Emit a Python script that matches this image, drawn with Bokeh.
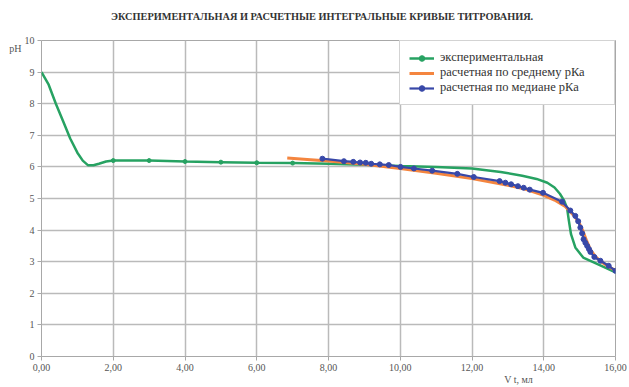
from bokeh.plotting import figure
from bokeh.models import (Range1d, FixedTicker, CustomJSTickFormatter, Legend, LegendItem, LinearAxis)
from bokeh.embed import file_html
from bokeh.resources import INLINE

# ---- data ----
title_text = "ЭКСПЕРИМЕНТАЛЬНАЯ И РАСЧЕТНЫЕ ИНТЕГРАЛЬНЫЕ КРИВЫЕ ТИТРОВАНИЯ."
y_label = "pH"
x_label = "V t, мл"
x_ticks = [0, 2, 4, 6, 8, 10, 12, 14, 16]
y_ticks = [0, 1, 2, 3, 4, 5, 6, 7, 8, 9, 10]

exp_x = [0, 0.2, 0.4, 0.6, 0.8, 1.0, 1.15, 1.3, 1.45, 1.6, 1.8, 2, 3, 4, 5, 6, 7, 8, 9, 10,
         11, 12, 12.8, 13.4, 13.8, 14.1, 14.3, 14.45, 14.56, 14.65, 14.7, 14.76, 14.88,
         15.1, 15.5, 16]
exp_ph = [9.0, 8.6, 8.0, 7.45, 6.9, 6.45, 6.2, 6.05, 6.05, 6.1, 6.17, 6.2, 6.2, 6.17, 6.15,
          6.13, 6.12, 6.1, 6.07, 6.03, 6.0, 5.95, 5.84, 5.72, 5.62, 5.5, 5.35, 5.15, 4.95,
          4.7, 4.3, 3.87, 3.45, 3.13, 2.92, 2.66]
exp_mark_x = [2, 3, 4, 5, 6, 7]
exp_mark_ph = [6.2, 6.2, 6.17, 6.15, 6.13, 6.12]

mean_x = [6.85, 7.5, 8.0, 9.0, 10.0, 11.0, 12.0, 13.0, 13.5, 14.0, 14.3, 14.6, 14.85, 15.0,
          15.1, 15.2, 15.3, 15.45, 15.6, 15.8, 16.0]
mean_ph = [6.28, 6.23, 6.19, 6.08, 5.95, 5.8, 5.63, 5.42, 5.29, 5.1, 4.95, 4.75, 4.45, 4.2,
           3.95, 3.65, 3.38, 3.15, 3.0, 2.85, 2.72]

med_x = [7.83, 8.43, 8.69, 8.88, 9.04, 9.19, 9.43, 9.68, 10.01, 10.38, 10.89, 11.59, 12.05,
         12.77, 12.93, 13.09, 13.28, 13.44, 13.61, 13.98, 14.51, 14.74, 14.88, 14.96, 15.02,
         15.07, 15.11, 15.16, 15.21, 15.26, 15.3, 15.41, 15.58, 15.81, 16.0]
med_ph = [6.26, 6.18, 6.16, 6.14, 6.13, 6.1, 6.08, 6.06, 6.0, 5.95, 5.88, 5.78, 5.68, 5.55,
          5.5, 5.45, 5.39, 5.34, 5.28, 5.18, 4.9, 4.62, 4.45, 4.28, 4.08, 3.9, 3.71, 3.6,
          3.5, 3.4, 3.31, 3.15, 3.03, 2.87, 2.71]

labels = ["экспериментальная", "расчетная по среднему рКа", "расчетная по медиане рКа"]

GREEN = "#27a262"
ORANGE = "#f4853f"
BLUE = "#3848a8"
GRID = "#bababa"
FONT = "Liberation Serif, serif"

p = figure(width=629, height=387, output_backend="svg", toolbar_location=None,
           x_range=Range1d(0, 16), y_range=Range1d(0, 10),
           min_border_left=41, min_border_right=14, min_border_top=40, min_border_bottom=31)
p.background_fill_color = "white"
p.border_fill_color = "white"
p.outline_line_color = "#a8a8a8"
p.outline_line_width = 1

for ax in (p.xaxis[0], p.yaxis[0]):
    ax.axis_line_color = None
    ax.major_tick_line_color = "#a8a8a8"
    ax.major_tick_in = 0
    ax.major_tick_out = 4
    ax.minor_tick_line_color = None
    ax.major_label_text_font = FONT
    ax.major_label_text_font_size = "10px"
    ax.major_label_text_color = "#555555"
    ax.major_label_standoff = 3

p.xaxis.ticker = FixedTicker(ticks=x_ticks)
p.yaxis.ticker = FixedTicker(ticks=y_ticks)
p.xaxis.formatter = CustomJSTickFormatter(code="return tick.toFixed(2).replace('.', ',');")


def text_axis(pos, text, size="10px", style="normal", color="#555555", standoff=0):
    return LinearAxis(ticker=FixedTicker(ticks=[pos]), major_label_overrides={pos: text},
                      axis_line_color=None, major_tick_line_color=None, minor_tick_line_color=None,
                      major_tick_out=0, major_tick_in=0, major_label_standoff=standoff,
                      major_label_text_font=FONT, major_label_text_font_size=size,
                      major_label_text_font_style=style, major_label_text_color=color)


# chart title above the frame, pH at the top-left, V t under the axis on the right
p.add_layout(text_axis(7.82, title_text, size="10.3px", style="bold", color="#333333",
                       standoff=19), "above")
p.add_layout(text_axis(9.75, y_label), "left")
p.add_layout(text_axis(13.3, x_label), "below")

p.xgrid.grid_line_color = GRID
p.ygrid.grid_line_color = GRID
p.xgrid.grid_line_width = 1.5
p.ygrid.grid_line_width = 1.5

r_g = p.line(exp_x, exp_ph, line_color=GREEN, line_width=2.5)
r_gm = p.scatter(exp_mark_x, exp_mark_ph, size=4, marker="circle", fill_color=GREEN, line_color=GREEN)
r_o = p.line(mean_x, mean_ph, line_color=ORANGE, line_width=3)
r_b = p.line(med_x, med_ph, line_color=BLUE, line_width=2.2)
r_bm = p.scatter(med_x, med_ph, size=5, marker="circle", fill_color=BLUE, line_color=BLUE)

legend = Legend(items=[LegendItem(label=labels[0], renderers=[r_g, r_gm]),
                       LegendItem(label=labels[1], renderers=[r_o]),
                       LegendItem(label=labels[2], renderers=[r_b, r_bm])],
                location="top_right")
legend.margin = 0
legend.padding = 9
legend.spacing = 0
legend.label_height = 14
legend.glyph_height = 14
legend.glyph_width = 25
legend.label_standoff = 6
legend.label_width = 165
legend.border_line_color = "#a8a8a8"
legend.border_line_width = 1
legend.background_fill_alpha = 1
legend.label_text_font = FONT
legend.label_text_font_size = "12.5px"
legend.label_text_color = "#333333"
p.add_layout(legend)

open("out.html", "w").write(file_html(p, INLINE))
